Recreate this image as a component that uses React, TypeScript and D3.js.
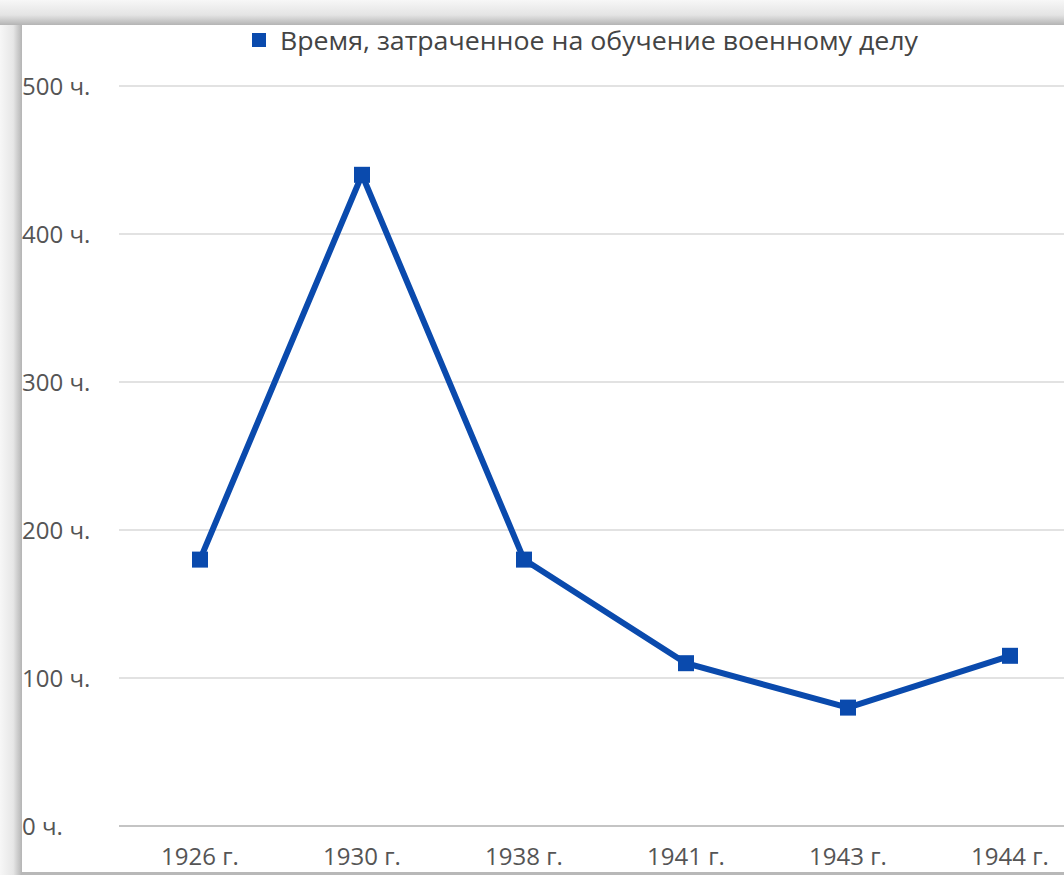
import React from 'react';
import {scaleBand, scaleLinear, line} from 'd3';

// data
const categories = ['1926 г.', '1930 г.', '1938 г.', '1941 г.', '1943 г.', '1944 г.'];
const hours = [180, 440, 180, 110, 80, 115];
const yTicks = [0, 100, 200, 300, 400, 500];
const seriesName = 'Время, затраченное на обучение военному делу';

const W = 1064;
const H = 875;
const blue = '#0a4aad';
const font = "'Open Sans', 'Noto Sans', sans-serif";

const margin = {t: 86, l: 119, b: 49};

// band runs past the right edge, the reference is cropped there
const x = scaleBand<string>().domain(categories).range([margin.l, margin.l + 162 * 6]);
const y = scaleLinear().domain([0, 500]).range([H - margin.b, margin.t]);

const pathGen = line<number>()
	.x((d, i) => (x(categories[i]) as number) + x.bandwidth() / 2)
	.y(d => y(d));

export default function App() {
	return (
		<div style={{position: 'absolute', left: 0, top: 0}}>
			<svg width={W} height={H} style={{display: 'block'}}>
				<defs>
					<linearGradient id='shL' x1='0' x2='1' y1='0' y2='0'>
						<stop offset='0' stopColor='#f7f7f7' />
						<stop offset='0.6' stopColor='#e6e6e6' />
						<stop offset='1' stopColor='#b4b4b4' />
					</linearGradient>
					<linearGradient id='shT' x1='0' x2='0' y1='0' y2='1'>
						<stop offset='0' stopColor='#f7f7f7' />
						<stop offset='0.6' stopColor='#e4e4e4' />
						<stop offset='1' stopColor='#b4b4b4' />
					</linearGradient>
				</defs>
				<rect x={0} y={0} width={W} height={H} fill='#ffffff' />
				<rect x={0} y={0} width={22} height={H} fill='url(#shL)' />
				<rect x={0} y={0} width={W} height={25} fill='url(#shT)' />
				<rect x={22} y={872} width={W - 22} height={3} fill='#b8b8b8' />

				{/* legend */}
				<rect x={252} y={33} width={14} height={14} fill={blue} />
				<text x={280} y={50} fontFamily={font} fontSize={25} fill='#444' textLength={638} lengthAdjust='spacingAndGlyphs'>
					{seriesName}
				</text>

				{/* grid + y labels */}
				{yTicks.map(t => (
					<g key={t}>
						<line
							x1={margin.l}
							x2={W}
							y1={y(t)}
							y2={y(t)}
							stroke={t === 0 ? '#c4c4c4' : '#e2e2e2'}
							strokeWidth={2}
						/>
						<text x={22} y={y(t) + 9} fontFamily={font} fontSize={24} fill='#555'>
							{`${t} ч.`}
						</text>
					</g>
				))}

				{/* x labels */}
				{categories.map(c => (
					<text
						key={c}
						x={(x(c) as number) + x.bandwidth() / 2}
						y={865}
						textAnchor='middle'
						fontFamily={font}
						fontSize={24}
						fill='#555'
					>
						{c}
					</text>
				))}

				<path d={pathGen(hours) || ''} fill='none' stroke={blue} strokeWidth={6} strokeLinejoin='miter' />
				{hours.map((v, i) => (
					<rect
						key={i}
						x={(x(categories[i]) as number) + x.bandwidth() / 2 - 8}
						y={y(v) - 8}
						width={16}
						height={16}
						fill={blue}
					/>
				))}
			</svg>
		</div>
	);
}
